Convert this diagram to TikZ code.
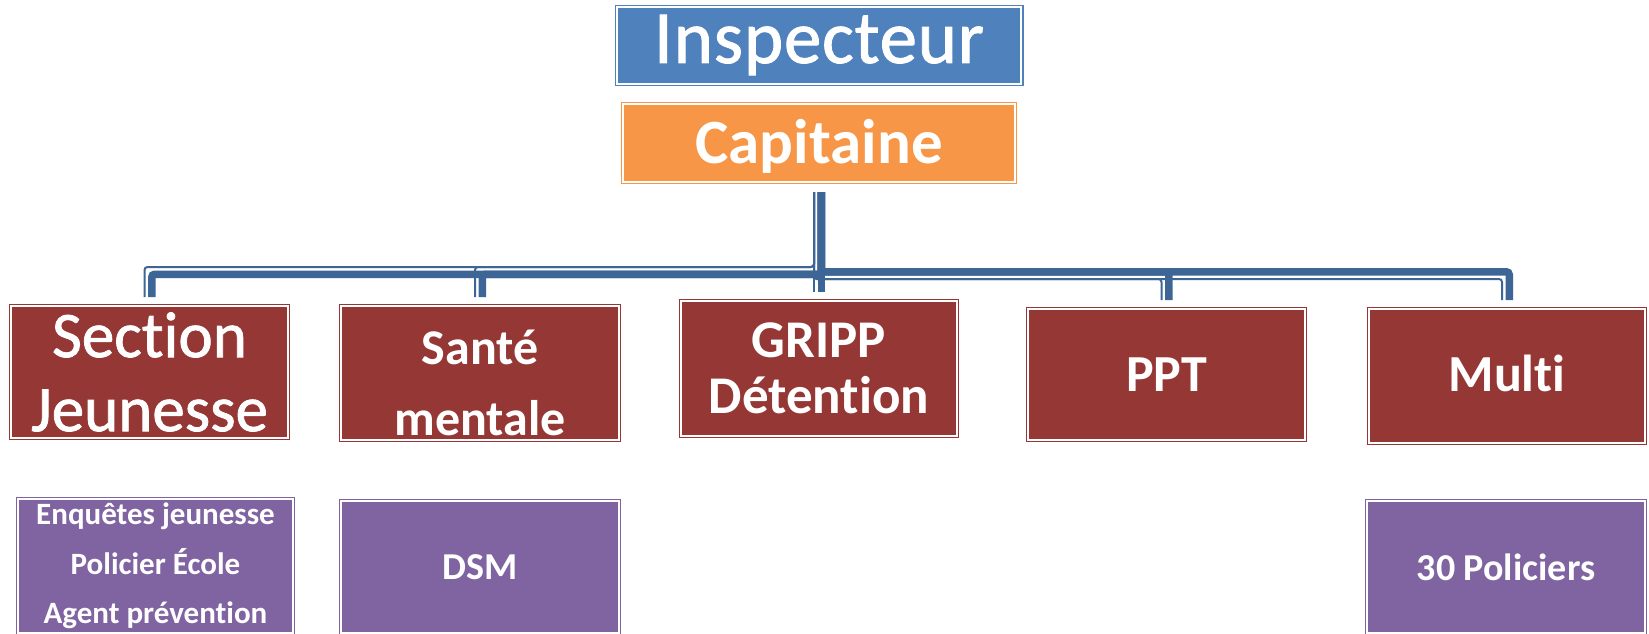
\documentclass[tikz,border=0pt]{standalone}
\usepackage{fontspec}
\setmainfont{Carlito}[Ligatures=NoCommon]
\newfontfamily\heavyreg{Carlito}[Ligatures=NoCommon,FakeBold=1.2]
\usetikzlibrary{calc}
\definecolor{cblue}{HTML}{4F81BD}
\definecolor{corange}{HTML}{F79646}
\definecolor{cred}{HTML}{953735}
\definecolor{cpurple}{HTML}{8064A2}
\definecolor{cline}{HTML}{3D6697}
\tikzset{
  box/.style={rectangle, draw=#1, fill=#1, double=white, double distance=2pt,
    line width=1.4pt, outer sep=2.4pt, inner sep=0pt, text=white, align=center},
  thinlink/.style={draw=cline, line width=2pt, rounded corners=3pt},
  thicklink/.style={draw=cline, line width=7.5pt, rounded corners=3pt},
}
\newcommand\linkW[1]{%
  \draw[thinlink] ($(cap.south)+(-5,8)$) |- ($(hw -| #1.north)+(-5,-5)$) -- ($(#1.north)+(-5,-7)$);
  \draw[thicklink] ($(cap.south)+(2.25,8)$) |- ($(hw -| #1.north)+(2.25,2.25)$) -- ($(#1.north)+(2.25,-7)$);}
\newcommand\linkE[1]{%
  \draw[thinlink] ($(cap.south)+(-5,8)$) |- ($(he -| #1.north)+(-5,5)$) -- ($(#1.north)+(-5,-7)$);
  \draw[thicklink] ($(cap.south)+(2.25,8)$) |- ($(he -| #1.north)+(2.25,-2.25)$) -- ($(#1.north)+(2.25,-7)$);}
\newcommand\linkS[1]{%
  \draw[thinlink] ($(cap.south)+(-5,8)$) -- ($(#1.north)+(-5,-7)$);
  \draw[thicklink] ($(cap.south)+(2.25,8)$) -- ($(#1.north)+(2.25,-7)$);}
\begin{document}
\begin{tikzpicture}[x=1pt,y=-1pt]
\useasboundingbox (0,0) rectangle (1649,634);
\fill[white] (0,0) rectangle (1649,634);
\clip (0,0) rectangle (1649,634);
\coordinate (hw) at (0,272);
\coordinate (he) at (0,274);
% top
\node[box=cblue, minimum width=404.2, minimum height=76.2, text height=35pt, text depth=0pt,
  font=\heavyreg\addfontfeature{LetterSpace=1}\fontsize{75}{90}\selectfont] (insp) at (819,45.5) {Inspecteur};
\node[box=corange, minimum width=391.2, minimum height=77.2, text height=40pt, text depth=0pt,
  font=\bfseries\fontsize{63}{76}\selectfont] (cap) at (819,143) {Capitaine};
% second row
\node[box=cred, minimum width=276.2, minimum height=131.2,
  font=\heavyreg\fontsize{65}{74}\selectfont] (sj) at (149.5,372) {Section\\Jeunesse};
\node[box=cred, minimum width=277.2, minimum height=133.2,
  font=\bfseries\fontsize{50}{71}\selectfont] (sm) at (480,373) {\rule{0pt}{54pt}Santé\\mentale};
\node[box=cred, minimum width=275.2, minimum height=134.2,
  font=\bfseries\fontsize{53}{55.5}\selectfont] (gd) at (819,368.5) {GRIPP\\Détention};
\node[box=cred, minimum width=276.2, minimum height=130.2, text height=33pt, text depth=0pt,
  font=\bfseries\fontsize{52}{62}\selectfont] (ppt) at (1166.5,374.5) {PPT};
\node[box=cred, minimum width=275.2, minimum height=133.2, text height=30pt, text depth=0pt,
  font=\bfseries\fontsize{52}{62}\selectfont] (multi) at (1507,376) {Multi};
% third row
\node[box=cpurple, minimum width=274.2, minimum height=133.2,
  font=\bfseries\fontsize{31}{49.5}\selectfont] (ej) at (155.5,566) {Enquêtes jeunesse\\Policier École\\Agent prévention};
\node[box=cpurple, minimum width=277.2, minimum height=131.2,
  font=\bfseries\fontsize{38}{46}\selectfont] (dsm) at (480,567) {DSM};
\node[box=cpurple, minimum width=277.2, minimum height=131.2,
  font=\bfseries\fontsize{38}{46}\selectfont] (pol) at (1506,567) {30 Policiers};
% connectors
\linkW{sj}
\linkW{sm}
\linkS{gd}
\linkE{ppt}
\linkE{multi}
\end{tikzpicture}
\end{document}
